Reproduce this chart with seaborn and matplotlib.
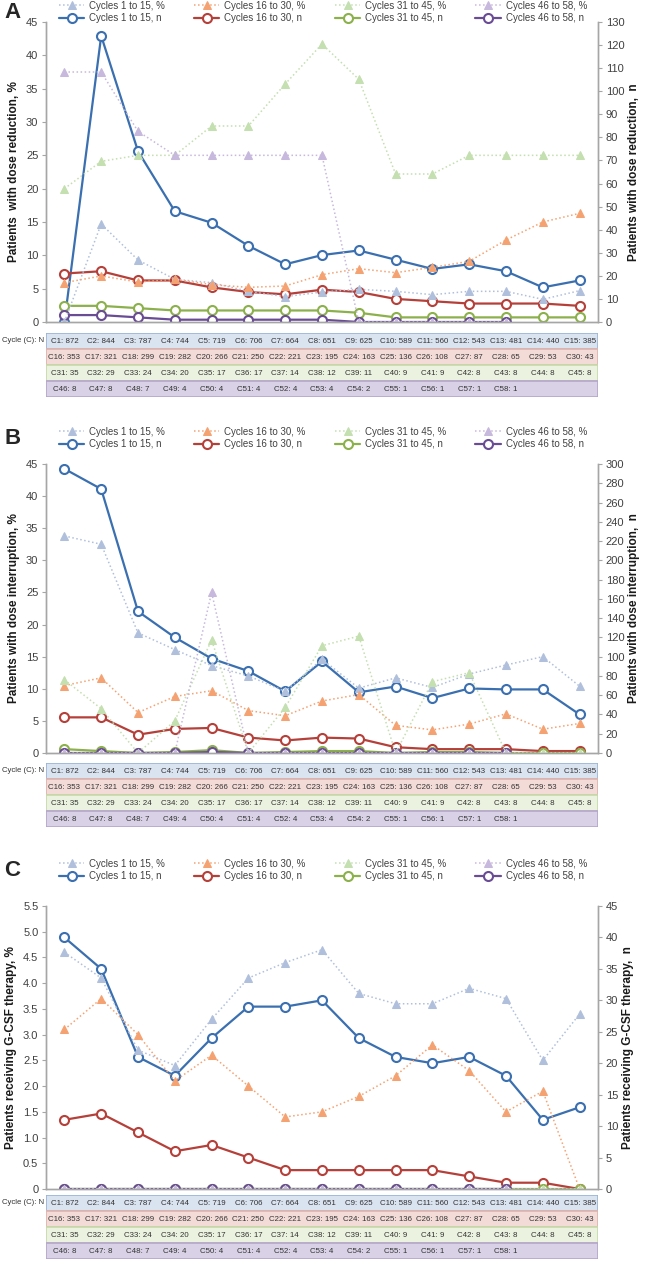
import numpy as np
import pandas as pd
import matplotlib
matplotlib.use('Agg')
import matplotlib.pyplot as plt
import seaborn as sns
from matplotlib.patches import Rectangle
from matplotlib.ticker import FuncFormatter

# Patients per cycle (table rows)
row_starts = [1, 16, 31, 46]
n_cycles_1 = [872, 844, 787, 744, 719, 706, 664, 651, 625, 589, 560, 543, 481, 440, 385]
n_cycles_2 = [353, 321, 299, 282, 266, 250, 221, 195, 163, 136, 108, 87, 65, 53, 43]
n_cycles_3 = [35, 29, 24, 20, 17, 17, 14, 12, 11, 9, 9, 8, 8, 8, 8]
n_cycles_4 = [8, 8, 7, 4, 4, 4, 4, 4, 2, 1, 1, 1, 1]

series_names = ['Cycles 1 to 15', 'Cycles 16 to 30', 'Cycles 31 to 45', 'Cycles 46 to 58']

# Panel A - dose reduction
a_pct_1 = [0, 14.7, 9.3, 6.4, 5.9, 4.6, 3.8, 4.5, 4.9, 4.6, 4.1, 4.6, 4.6, 3.4, 4.7]
a_pct_2 = [5.9, 6.9, 6.0, 6.4, 5.6, 5.2, 5.4, 7.1, 8.0, 7.4, 8.2, 9.1, 12.3, 15.0, 16.3]
a_pct_3 = [20.0, 24.1, 25.0, 25.0, 29.4, 29.4, 35.7, 41.7, 36.4, 22.2, 22.2, 25.0, 25.0, 25.0, 25.0]
a_pct_4 = [37.5, 37.5, 28.6, 25.0, 25.0, 25.0, 25.0, 25.0, 0, 0, 0, 0, 0]
a_n_1 = [0, 124, 74, 48, 43, 33, 25, 29, 31, 27, 23, 25, 22, 15, 18]
a_n_2 = [21, 22, 18, 18, 15, 13, 12, 14, 13, 10, 9, 8, 8, 8, 7]
a_n_3 = [7, 7, 6, 5, 5, 5, 5, 5, 4, 2, 2, 2, 2, 2, 2]
a_n_4 = [3, 3, 2, 1, 1, 1, 1, 1, 0, 0, 0, 0, 0]

# Panel B - dose interruption
b_pct_1 = [33.8, 32.5, 18.7, 16.1, 13.6, 12.0, 9.6, 14.6, 10.1, 11.7, 10.2, 12.3, 13.7, 15.0, 10.4]
b_pct_2 = [10.5, 11.7, 6.3, 8.8, 9.7, 6.6, 5.8, 8.1, 9.1, 4.3, 3.6, 4.5, 6.1, 3.7, 4.6]
b_pct_3 = [11.4, 6.9, 0, 5.0, 17.6, 0, 7.1, 16.7, 18.2, 0, 11.1, 12.5, 0, 0, 0]
b_pct_4 = [0, 0, 0, 0, 25.0, 0, 0, 0, 0, 0, 0, 0, 0]
b_n_1 = [295, 274, 147, 120, 98, 85, 64, 95, 63, 69, 57, 67, 66, 66, 40]
b_n_2 = [37, 37, 19, 25, 26, 16, 13, 16, 15, 6, 4, 4, 4, 2, 2]
b_n_3 = [4, 2, 0, 1, 3, 0, 1, 2, 2, 0, 1, 1, 0, 0, 0]
b_n_4 = [0, 0, 0, 0, 1, 0, 0, 0, 0, 0, 0, 0, 0]

# Panel C - G-CSF therapy
c_pct_1 = [4.6, 4.1, 2.7, 2.4, 3.3, 4.1, 4.4, 4.65, 3.8, 3.6, 3.6, 3.9, 3.7, 2.5, 3.4]
c_pct_2 = [3.1, 3.7, 3.0, 2.1, 2.6, 2.0, 1.4, 1.5, 1.8, 2.2, 2.8, 2.3, 1.5, 1.9, 0]
c_pct_3 = [0, 0, 0, 0, 0, 0, 0, 0, 0, 0, 0, 0, 0, 0, 0]
c_pct_4 = [0, 0, 0, 0, 0, 0, 0, 0, 0, 0, 0, 0, 0]
c_n_1 = [40, 35, 21, 18, 24, 29, 29, 30, 24, 21, 20, 21, 18, 11, 13]
c_n_2 = [11, 12, 9, 6, 7, 5, 3, 3, 3, 3, 3, 2, 1, 1, 0]
c_n_3 = [0, 0, 0, 0, 0, 0, 0, 0, 0, 0, 0, 0, 0, 0, 0]
c_n_4 = [0, 0, 0, 0, 0, 0, 0, 0, 0, 0, 0, 0, 0]

line_colors = ['#3a6fb0', '#b5403a', '#8cb04c', '#6a4c94']
pct_colors = ['#b0c0dc', '#f5a272', '#c4dfb0', '#c7b8dd']
row_fill = ['#dae3f0', '#f3dcd8', '#ebf2df', '#d9d2e6']
row_edge = ['#9bb3d6', '#e0b3ad', '#c6d9a8', '#b4a6cc']

sns.set_style('white')
plt.rcParams['font.family'] = ['Liberation Sans', 'DejaVu Sans']

W, H = 646, 1265
fig = plt.figure(figsize=(W / 100, H / 100), dpi=100)

X0, X1 = 46, 598


def fx(px):
    return px / W


def fy(px):
    return 1 - px / H


def draw_panel(letter, top, bottom, pcts, ns, pct_max, pct_step, n_max, n_step,
               label_pct, label_n, legend_y, table_top, pct_fmt=None):
    ax = fig.add_axes([fx(X0), fy(bottom), fx(X1) - fx(X0), (bottom - top) / H])
    ax2 = ax.twinx()
    ax.set_zorder(ax2.get_zorder() + 1)
    ax.patch.set_visible(False)

    handles = []
    for i in range(4):
        xs = np.arange(1, len(ns[i]) + 1)
        sns.lineplot(x=xs, y=ns[i], ax=ax2, color=line_colors[i], linewidth=1.6,
                     marker='o', markersize=6.5, markerfacecolor='white',
                     markeredgecolor=line_colors[i], markeredgewidth=1.5,
                     errorbar=None, legend=False)
        h_n = ax2.lines[-1]
        xs = np.arange(1, len(pcts[i]) + 1)
        sns.lineplot(x=xs, y=pcts[i], ax=ax, color=pct_colors[i], linewidth=1.1,
                     linestyle=':', marker='^', markersize=5.5,
                     markerfacecolor=pct_colors[i], markeredgecolor=pct_colors[i],
                     errorbar=None, legend=False)
        h_p = ax.lines[-1]
        handles += [(h_p, series_names[i] + ', %'), (h_n, series_names[i] + ', n')]

    for a in (ax, ax2):
        a.set_xlim(0.5, 15.5)
        a.set_xticks(np.arange(0.5, 15.6, 1))
        a.set_xticklabels([])
        for s in a.spines.values():
            s.set_color('#a6a6a6')
            s.set_linewidth(1)
        a.spines['top'].set_visible(False)
        a.tick_params(colors='#a6a6a6', labelcolor='#404040', labelsize=8, length=3, pad=2.5)

    ax.set_ylim(0, pct_max)
    ax.set_yticks(np.arange(0, pct_max + 1e-6, pct_step))
    if pct_fmt:
        ax.yaxis.set_major_formatter(FuncFormatter(pct_fmt))
    ax2.set_ylim(0, n_max)
    ax2.set_yticks(np.arange(0, n_max + 1e-6, n_step))
    ax.tick_params(axis='x', direction='out', length=3)
    ax2.tick_params(axis='x', length=0)

    ax.set_ylabel(label_pct, fontsize=8.5, fontweight='bold', color='#1a1a1a', labelpad=4)
    ax2.set_ylabel(label_n, fontsize=8.5, fontweight='bold', color='#1a1a1a', labelpad=3)
    ax.set_xlabel('')
    ax2.set_xlabel('')

    fig.legend([h for h, _ in handles], [l for _, l in handles], ncol=4,
               loc='center', bbox_to_anchor=(0.5, fy(legend_y)), frameon=False,
               fontsize=7, handlelength=2.6, columnspacing=3.0,
               labelspacing=0.3, handletextpad=0.5, labelcolor='#404040',
               borderpad=0.2)

    fig.text(fx(4), fy(legend_y), letter, fontsize=16, fontweight='bold',
             va='center', ha='left')

    # cycle table
    row_h = 16
    tax = fig.add_axes([fx(X0), fy(table_top + 4 * row_h), fx(X1) - fx(X0), 4 * row_h / H])
    tax.set_xlim(0.5, 15.5)
    tax.set_ylim(4, 0)
    tax.axis('off')
    n_rows = [n_cycles_1, n_cycles_2, n_cycles_3, n_cycles_4]
    for r in range(4):
        tax.add_patch(Rectangle((0.5, r + 0.03), 15, 0.94, facecolor=row_fill[r],
                                edgecolor=row_edge[r], linewidth=1.2))
        for j, nval in enumerate(n_rows[r]):
            tax.text(j + 1, r + 0.52, f'C{row_starts[r] + j}: {nval}', ha='center',
                     va='center', fontsize=5.7, color='#333333')
    fig.text(fx(2), fy(table_top + row_h / 2), 'Cycle (C): N', fontsize=5.6,
             color='#333333', va='center', ha='left')


def c_fmt(v, pos):
    return '0' if abs(v) < 1e-9 else f'{v:.1f}'


draw_panel('A', 22, 322, [a_pct_1, a_pct_2, a_pct_3, a_pct_4],
           [a_n_1, a_n_2, a_n_3, a_n_4], 45, 5, 130, 10,
           'Patients  with dose reduction, %', 'Patients with dose reduction,  n',
           12, 333)
draw_panel('B', 464, 753, [b_pct_1, b_pct_2, b_pct_3, b_pct_4],
           [b_n_1, b_n_2, b_n_3, b_n_4], 45, 5, 300, 20,
           'Patients with dose interruption, %', 'Patients with dose interruption,  n',
           438, 763)
draw_panel('C', 906, 1189, [c_pct_1, c_pct_2, c_pct_3, c_pct_4],
           [c_n_1, c_n_2, c_n_3, c_n_4], 5.5, 0.5, 45, 5,
           'Patients receiving G-CSF therapy, %', 'Patients receiving G-CSF therapy,  n',
           870, 1195, pct_fmt=c_fmt)

fig.savefig('out.png', dpi=100)
